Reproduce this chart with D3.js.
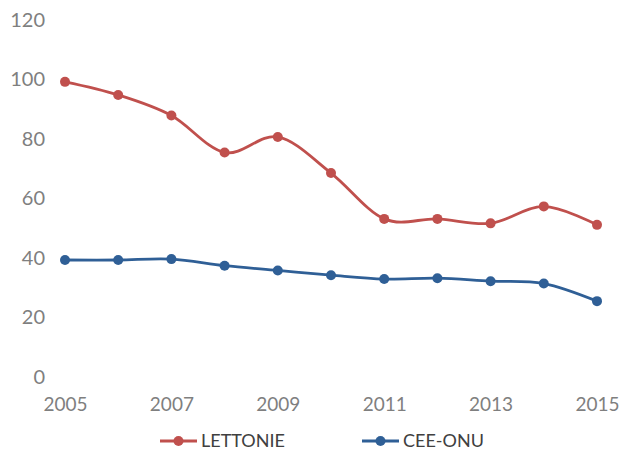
<!DOCTYPE html>
<html><head><meta charset="utf-8">
<script src="https://cdn.jsdelivr.net/npm/d3@7"></script>
<style>body{margin:0;background:#fff;} svg{display:block;}</style>
</head><body>
<svg id="c" width="619" height="452"></svg>
<script>
const years = [2005,2006,2007,2008,2009,2010,2011,2012,2013,2014,2015];
const lettonie = [98.9,94.5,87.6,75.2,80.4,68.3,52.9,52.9,51.4,57.1,50.9];
const ceeOnu = [39.1,39.1,39.4,37.2,35.6,34.0,32.7,33.0,32.0,31.2,25.3];
const yTicks = [0,20,40,60,80,100,120];
const xTickLabels = [2005,2007,2009,2011,2013,2015];
const seriesNames = ["LETTONIE","CEE-ONU"];
const colors = ["#c0504d","#2f5f96"];

const svg = d3.select("#c");
const x = d3.scaleLinear().domain([2005,2015]).range([65,597]);
const y = d3.scaleLinear().domain([0,120]).range([376.5,19]);
const font = "Lato, sans-serif";

const yAxis = d3.axisLeft(y).tickValues(yTicks).tickSize(0).tickPadding(0);
svg.append("g").attr("transform","translate(45,0)").call(yAxis)
  .call(g=>{g.select(".domain").remove();
    g.selectAll("text").attr("fill","#7f7f7f").style("font-size","20px").style("font-family",font).attr("dy","0.35em");});

const xAxis = d3.axisBottom(x).tickValues(xTickLabels).tickFormat(d3.format("d")).tickSize(0).tickPadding(0);
svg.append("g").attr("transform","translate(0,404)").call(xAxis)
  .call(g=>{g.select(".domain").remove();
    g.selectAll("text").attr("fill","#7f7f7f").style("font-size","19px").style("font-family",font).attr("y",0).attr("dy","0.35em");});

const data = [lettonie, ceeOnu];
const line = d3.line().x((d,i)=>x(years[i])).y(d=>y(d)).curve(d3.curveCardinal.tension(0));
data.forEach((s,k)=>{
  svg.append("path").attr("d",line(s)).attr("fill","none").attr("stroke",colors[k]).attr("stroke-width",2.8);
  svg.selectAll(null).data(s).enter().append("circle")
    .attr("cx",(d,i)=>x(years[i])).attr("cy",d=>y(d)).attr("r",5).attr("fill",colors[k]);
});

const legX = [160,362];
seriesNames.forEach((n,k)=>{
  const g = svg.append("g").attr("transform",`translate(${legX[k]},441)`);
  g.append("line").attr("x1",0).attr("x2",37).attr("stroke",colors[k]).attr("stroke-width",2.8);
  g.append("circle").attr("cx",18.5).attr("r",5).attr("fill",colors[k]);
  g.append("text").attr("x",41).attr("dy","0.35em").text(n).attr("fill","#404040")
    .style("font-size","18px").style("font-family",font);
});
</script>
</body></html>
